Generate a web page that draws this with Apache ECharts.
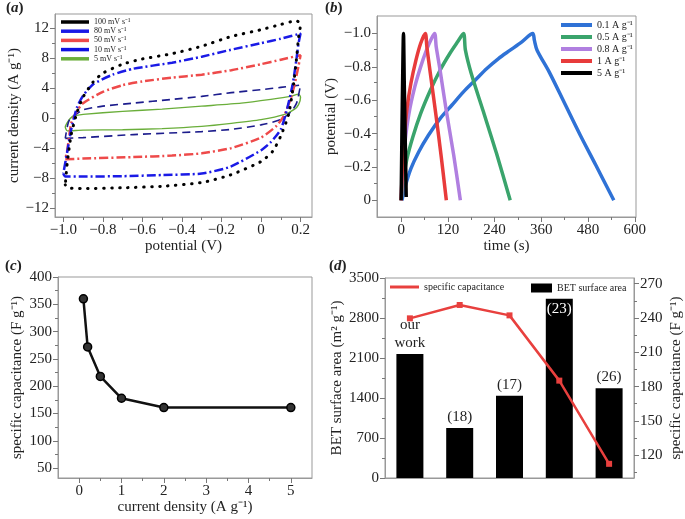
<!DOCTYPE html>
<html><head><meta charset="utf-8">
<script src="https://cdn.jsdelivr.net/npm/echarts@6/dist/echarts.min.js"></script>
<style>html,body{margin:0;padding:0;background:#fff}#c{width:685px;height:519px}</style>
</head><body><div id="c"></div>
<script>
// ---------- (a) cyclic voltammetry: [potential V, current density A/g]
const cvNames = ['100 mV s⁻¹','80 mV s⁻¹','50 mV s⁻¹','10 mV s⁻¹','5 mV s⁻¹'];
const cv100 = [[-0.99,-8.9],[-0.98,-9.3],[-0.9,-9.4],[-0.7,-9.3],[-0.5,-9.1],[-0.3,-8.6],[-0.156,-7.6],[0,-5.8],[0.06,-4.4],[0.1,-2.4],[0.14,0.5],[0.165,4.6],[0.18,8.0],[0.19,10.8],[0.2,12.5],[0.18,13.0],[0.1,12.5],[0,11.8],[-0.15,10.9],[-0.3,9.6],[-0.45,8.6],[-0.6,7.9],[-0.7,7.2],[-0.8,6.0],[-0.85,4.8],[-0.9,2.8],[-0.93,0.8],[-0.96,-2.2],[-0.98,-6.0],[-0.99,-8.9]];
const cv80 = [[-1.0,-7.4],[-0.99,-7.8],[-0.9,-7.8],[-0.7,-7.75],[-0.5,-7.6],[-0.3,-7.4],[-0.156,-6.5],[0,-4.3],[0.05,-3.2],[0.1,-1.5],[0.13,1.0],[0.16,4.5],[0.18,8.0],[0.19,10.0],[0.2,11.3],[0.1,10.6],[0,10.0],[-0.156,9.1],[-0.3,8.2],[-0.45,7.4],[-0.645,6.6],[-0.75,5.8],[-0.85,4.5],[-0.9,3.0],[-0.93,1.5],[-0.96,-1.5],[-0.98,-4.5],[-1.0,-7.4]];
const cv50 = [[-0.99,-5.5],[-0.9,-5.4],[-0.645,-5.2],[-0.45,-5.0],[-0.3,-4.7],[-0.15,-4.0],[0,-2.6],[0.08,-1.0],[0.12,0.5],[0.15,2.6],[0.17,4.5],[0.19,7.0],[0.2,8.4],[0.1,7.8],[0,7.2],[-0.15,6.4],[-0.3,5.8],[-0.45,5.4],[-0.6,4.9],[-0.7,4.4],[-0.8,3.5],[-0.9,2.0],[-0.93,1.0],[-0.96,-0.7],[-0.98,-4.3],[-0.99,-5.5]];
const cv10 = [[-0.99,-2.7],[-0.9,-2.6],[-0.645,-2.2],[-0.3,-1.8],[-0.15,-1.5],[0,-0.9],[0.1,-0.2],[0.15,0.8],[0.18,2.0],[0.2,4.4],[0.1,4.1],[0,3.8],[-0.15,3.4],[-0.3,2.9],[-0.45,2.5],[-0.645,2.0],[-0.8,1.6],[-0.9,1.1],[-0.97,-0.3],[-0.99,-2.7]];
const cv5 = [[-0.95,0.3],[-0.9,0.5],[-0.7,0.9],[-0.5,1.2],[-0.3,1.6],[-0.1,2.0],[0.05,2.5],[0.15,2.9],[0.19,3.2],[0.2,2.8],[0.19,1.8],[0.17,1.2],[0.12,0.5],[0,-0.2],[-0.15,-0.7],[-0.3,-1.1],[-0.5,-1.4],[-0.7,-1.55],[-0.9,-1.6],[-0.98,-1.7],[-0.99,-1.2],[-0.97,-0.2],[-0.95,0.3]];
const cvXTicks = [-1.0,-0.8,-0.6,-0.4,-0.2,0,0.2];
const cvXMinor = [-0.9,-0.7,-0.5,-0.3,-0.1,0.1];
const cvYTicks = [-12,-8,-4,0,4,8,12];
const cvYMinor = [-10,-6,-2,2,6,10];

// ---------- (b) galvanostatic charge/discharge: [time s, potential V]
const gcdNames = ['0.1 A g⁻¹','0.5 A g⁻¹','0.8 A g⁻¹','1 A g⁻¹','5 A g⁻¹'];
const gcd01 = [[2,0],[10,-0.08],[25,-0.19],[45,-0.29],[70,-0.39],[100,-0.49],[130,-0.57],[160,-0.65],[190,-0.72],[220,-0.79],[250,-0.85],[280,-0.90],[310,-0.95],[338,-1.0],[342,-0.96],[349,-0.90],[380,-0.77],[420,-0.58],[460,-0.39],[500,-0.21],[546,0]];
const gcd05 = [[0,0],[5,-0.12],[15,-0.25],[30,-0.38],[50,-0.52],[75,-0.66],[100,-0.78],[125,-0.88],[145,-0.95],[160,-1.0],[165,-0.9],[180,-0.76],[210,-0.54],[245,-0.28],[280,0]];
const gcd08 = [[0,0],[3,-0.15],[10,-0.35],[20,-0.52],[35,-0.68],[50,-0.80],[65,-0.9],[78,-0.97],[86,-1.0],[90,-0.92],[100,-0.78],[115,-0.55],[135,-0.27],[152,0]];
const gcd1 = [[0,0],[3,-0.18],[8,-0.38],[15,-0.55],[25,-0.70],[38,-0.84],[50,-0.94],[62,-1.0],[66,-0.92],[75,-0.76],[90,-0.50],[103,-0.26],[116,0]];
const gcd5 = [[0,0],[2,-0.4],[4,-0.75],[6,-1.0],[8,-0.7],[11,-0.3],[13,-0.02]];
const gcdXTicks = [0,120,240,360,480,600];
const gcdXMinor = [60,180,300,420,540];
const gcdYTicks = [-1.0,-0.8,-0.6,-0.4,-0.2,0];
const gcdYMinor = [-0.9,-0.7,-0.5,-0.3,-0.1];

// ---------- (c) rate capability
const rateX = [0.1,0.2,0.5,1,2,5];
const capC = [360,272,218,178,161,161];
const rcXTicks = [0,1,2,3,4,5];
const rcXMinor = [0.5,1.5,2.5,3.5,4.5];
const rcYTicks = [50,100,150,200,250,300,350,400];
const rcYMinor = [75,125,175,225,275,325,375];

// ---------- (d) comparison
const workLabels = ['our\nwork','(18)','(17)','(23)','(26)'];
const betArea = [2170,875,1441,3138,1569];
const specCap = [239.7,251.4,242.3,185.2,112.4];
const scTicks = [120,150,180,210,240,270];
const scMinor = [105,135,165,195,225,255];

const F = 'Liberation Serif';
const minus = v => (v < 0 ? '−' : '') + Math.abs(v);
const fix1 = v => v === 0 ? '0' : (v < 0 ? '−' : '') + Math.abs(v).toFixed(1);

const X = [], Y = [];
const LINE = {show:true, onZero:false, lineStyle:{color:'#999', width:1}};
const TICKC = {color:'#777', width:1};
const LBL = {color:'#222', fontFamily:F, fontSize:15, margin:6};
const NAME = {fontFamily:F, fontSize:15, color:'#222'};
function valAxis(list, grid, isX, min, max, majors, minors, fmt, extra){
  const pos = (extra && extra.position) || (isX ? 'bottom' : 'left');
  const main = Object.assign({
    type:'value', gridIndex:grid, min, max, position:pos, splitLine:{show:false},
    axisLine:LINE,
    axisTick:{show:true, customValues:majors, length:5, lineStyle:TICKC},
    axisLabel:Object.assign({customValues:majors, formatter:fmt}, LBL),
    nameTextStyle:NAME
  }, extra||{});
  list.push(main);
  const idx = list.length-1;
  if (minors) list.push({type:'value', gridIndex:grid, min, max, position:pos, splitLine:{show:false},
    axisLine:{show:false, onZero:false}, axisLabel:{show:false},
    axisTick:{show:true, customValues:minors, length:3, lineStyle:TICKC}});
  return idx;
}

// grids
const grids = [
  {left:55, top:14, width:257, height:203},
  {left:377, top:16, width:259, height:201},
  {left:58, top:277, width:254, height:201},
  {left:385, top:278, width:249, height:200}
].map(g => Object.assign(g, {show:true, borderColor:'#999', borderWidth:1, backgroundColor:'transparent'}));

// (a)
const ax0 = valAxis(X, 0, true, -1.042, 0.258, cvXTicks, cvXMinor, fix1, {name:'potential (V)', nameLocation:'middle', nameGap:21});
const ay0 = valAxis(Y, 0, false, -13.2, 13.9, cvYTicks, cvYMinor, minus, {name:'current density (A g⁻¹)', nameLocation:'middle', nameGap:33});
// (b)
const ax1 = valAxis(X, 1, true, -62, 603, gcdXTicks, gcdXMinor, v=>String(v), {name:'time (s)', nameLocation:'middle', nameGap:21});
const ay1 = valAxis(Y, 1, false, -1.105, 0.1, gcdYTicks, gcdYMinor, fix1, {inverse:true, name:'potential (V)', nameLocation:'middle', nameGap:38});
// (c)
const ax2 = valAxis(X, 2, true, -0.5, 5.5, rcXTicks, rcXMinor, v=>String(v), {name:'current density (A g⁻¹)', nameLocation:'middle', nameGap:21});
const ay2 = valAxis(Y, 2, false, 32, 400, rcYTicks, rcYMinor, v=>String(v), {name:'specific capacitance (F g⁻¹)', nameLocation:'middle', nameGap:33});
// (d)
X.push({type:'category', gridIndex:3, position:'bottom', data:workLabels.map((_,i)=>String(i)), axisTick:{show:false}, axisLabel:{show:false}, axisLine:LINE});
const ax3 = X.length-1;
Y.push({type:'value', gridIndex:3, position:'left', min:0, max:3500, interval:700, splitLine:{show:false}, axisLine:LINE,
  axisTick:{show:true, length:5, lineStyle:TICKC}, minorTick:{show:true, splitNumber:2, length:3, lineStyle:TICKC},
  axisLabel:Object.assign({formatter:v=>String(v)}, LBL),
  name:'BET surface area (m² g⁻¹)', nameLocation:'middle', nameGap:40, nameTextStyle:NAME});
const ayL3 = Y.length-1;
const ayR3 = valAxis(Y, 3, false, 100, 275, scTicks, scMinor, v=>String(v), {position:'right', name:'specific capacitance (F g⁻¹)', nameLocation:'middle', nameGap:35, nameRotate:90});

const cvColors = ['#000000','#1a1ae6','#ee4a4a','#1c1c8c','#6aae3a'];
const cvStyles = [
  {width:3, type:[0.5,7.5], cap:'round'},
  {width:2.5, type:[9,3,2,3]},
  {width:2.5, type:[9,3,2,3]},
  {width:1.6, type:[8,5]},
  {width:1.4, type:'solid'}
];
const cvData = [cv100, cv80, cv50, cv10, cv5];
const series = [];
cvData.forEach((d,i) => series.push({type:'line', name:cvNames[i], xAxisIndex:ax0, yAxisIndex:ay0, data:d,
  showSymbol:false, smooth:0.2, color:cvColors[i], lineStyle:Object.assign({color:cvColors[i]}, cvStyles[i]), z:10-i}));

const gcdColors = ['#2f72d6','#3aa46c','#b07fe0','#e83b3b','#000000'];
[gcd01, gcd05, gcd08, gcd1, gcd5].forEach((d,i) => series.push({type:'line', name:gcdNames[i], xAxisIndex:ax1, yAxisIndex:ay1,
  data:d, showSymbol:false, smooth:0.3, color:gcdColors[i], lineStyle:{width:3.5, color:gcdColors[i]}}));

series.push({type:'line', name:'rate', xAxisIndex:ax2, yAxisIndex:ay2, data:rateX.map((x,i)=>[x, capC[i]]),
  symbol:'circle', symbolSize:8, color:'#111', lineStyle:{width:2.5, color:'#111'}, itemStyle:{color:'#333', borderColor:'#000', borderWidth:1.5}});

series.push({type:'bar', name:'BET surface area', xAxisIndex:ax3, yAxisIndex:ayL3, barWidth:27, color:'#000',
  data:betArea.map((v,i)=>({value:v, label: i===3 ? {position:'insideTop', color:'#fff', distance:1} : {}})),
  label:{show:true, position:'top', distance:2, fontFamily:F, fontSize:15, color:'#222', lineHeight:18,
    formatter:p => workLabels[p.dataIndex]}});
series.push({type:'line', name:'specific capacitance', xAxisIndex:ax3, yAxisIndex:ayR3, data:specCap,
  symbol:'rect', symbolSize:6, color:'#e8403e', lineStyle:{width:2.5, color:'#e8403e'}, z:5});

const legText = (s) => ({fontFamily:F, fontSize:s, color:'#222'});
const legends = [
  {left:61, top:18, padding:0, orient:'vertical', icon:'rect', itemWidth:28, itemHeight:3.5, itemGap:1.2, textStyle:Object.assign(legText(8),{lineHeight:8}),
    data:cvNames.map((n,i)=> i===3 ? {name:n, itemStyle:{color:'#1010e0'}} : n)},
  {left:561, top:20, padding:0, orient:'vertical', icon:'rect', itemWidth:31, itemHeight:4, itemGap:2, textStyle:Object.assign(legText(10),{lineHeight:10}),
    data:gcdNames},
  {left:390, top:282, padding:0, icon:'rect', itemWidth:29, itemHeight:3, textStyle:legText(10), data:['specific capacitance']},
  {left:531, top:283, padding:0, icon:'rect', itemWidth:21, itemHeight:9, textStyle:legText(10), data:['BET surface area']}
];

const tag = (t, l, top) => ({text:'{n|(}{i|'+t+'}{n|)}', left:l, top:top, padding:0,
  textStyle:{rich:{n:{fontFamily:F, fontSize:15, color:'#222'}, i:{fontFamily:F, fontSize:15, fontStyle:'italic', color:'#222'}}}});

const chart = echarts.init(document.getElementById('c'), null, {renderer:'canvas'});
chart.setOption({
  animation:false,
  title:[tag('a',6,1), tag('b',325,1), tag('c',5,259), tag('d',329,259)],
  grid:grids, xAxis:X, yAxis:Y, legend:legends, series
});
</script></body></html>
